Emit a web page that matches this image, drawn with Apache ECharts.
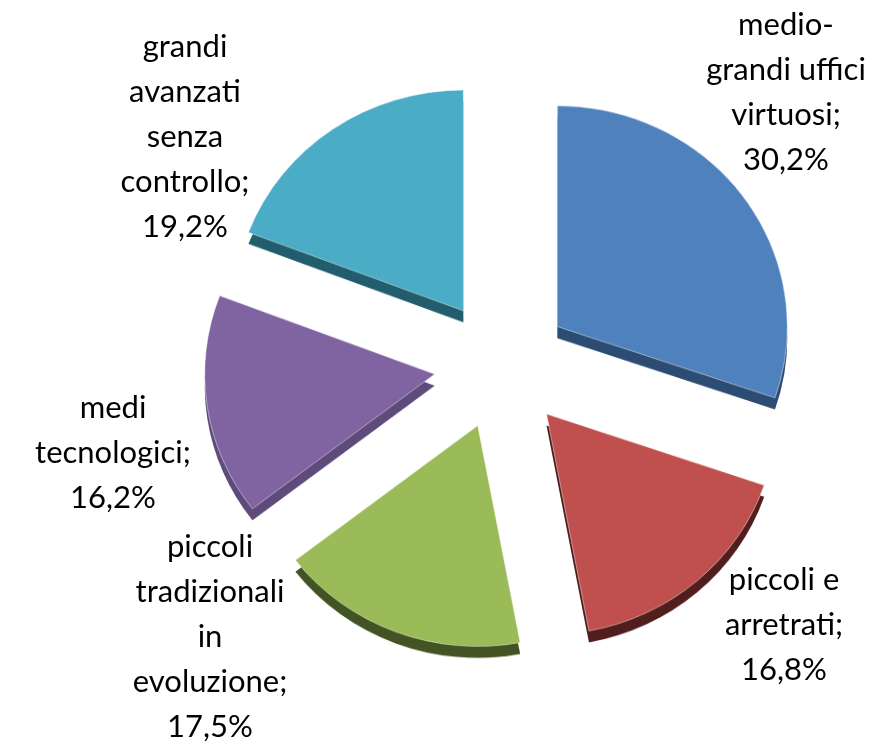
<!DOCTYPE html>
<html>
<head>
<meta charset="utf-8">
<script src="https://cdn.jsdelivr.net/npm/echarts@6/dist/echarts.min.js"></script>
<style>
html,body{margin:0;padding:0;background:#fff;}
#wrap{position:relative;width:881px;height:743px;overflow:hidden;}
#pie{position:absolute;left:0;top:0;width:881px;height:743px;transform:scaleY(0.96);transform-origin:0 90px;}
#lab{position:absolute;left:0;top:0;width:881px;height:743px;pointer-events:none;}
</style>
</head>
<body>
<div id="wrap"><div id="pie"></div><div id="lab"></div></div>
<script>
var categories = ['medio-\ngrandi uffici\nvirtuosi', 'piccoli e\narretrati', 'piccoli\ntradizionali\nin\nevoluzione', 'medi\ntecnologici', 'grandi\navanzati\nsenza\ncontrollo'];
var values = [30.2, 16.8, 17.5, 16.2, 19.2];
var faceColors = ['#4F81BD', '#C0504D', '#9BBB59', '#8064A2', '#4BACC6'];
var sideColors = ['#2C4C73', '#521E1D', '#435424', '#5F4A7C', '#225D6D'];
var labelX = [786, 784, 210, 113, 185];
var labelY = [92, 625, 637, 453, 137];

var pie = echarts.init(document.getElementById('pie'), null, {renderer: 'canvas'});
function mk(colors, cy, face) {
  return {
    type: 'pie',
    silent: true,
    animation: false,
    center: [502, cy],
    radius: [0, 230],
    startAngle: 90,
    clockwise: true,
    selectedMode: 'multiple',
    selectedOffset: 68,
    itemStyle: face ? {borderColor: 'rgba(255,255,255,0.45)', borderWidth: 1} : {borderWidth: 0},
    label: {show: false},
    labelLine: {show: false},
    emphasis: {disabled: true},
    data: categories.map(function (n, i) {
      return {name: n, value: values[i], selected: true, itemStyle: {color: colors[i]}};
    })
  };
}
pie.setOption({
  backgroundColor: 'transparent',
  series: [mk(sideColors, 388, false), mk(faceColors, 376, true)]
});

var lab = echarts.init(document.getElementById('lab'), null, {renderer: 'canvas'});
lab.setOption({
  graphic: categories.map(function (n, i) {
    return {
      type: 'text',
      silent: true,
      style: {
        text: n + ';\n' + values[i].toFixed(1).replace('.', ',') + '%',
        x: labelX[i],
        y: labelY[i],
        fill: '#000',
        fontFamily: 'Lato',
        fontSize: 31,
        lineHeight: 45,
        align: 'center',
        verticalAlign: 'middle'
      }
    };
  })
});
</script>
</body>
</html>
